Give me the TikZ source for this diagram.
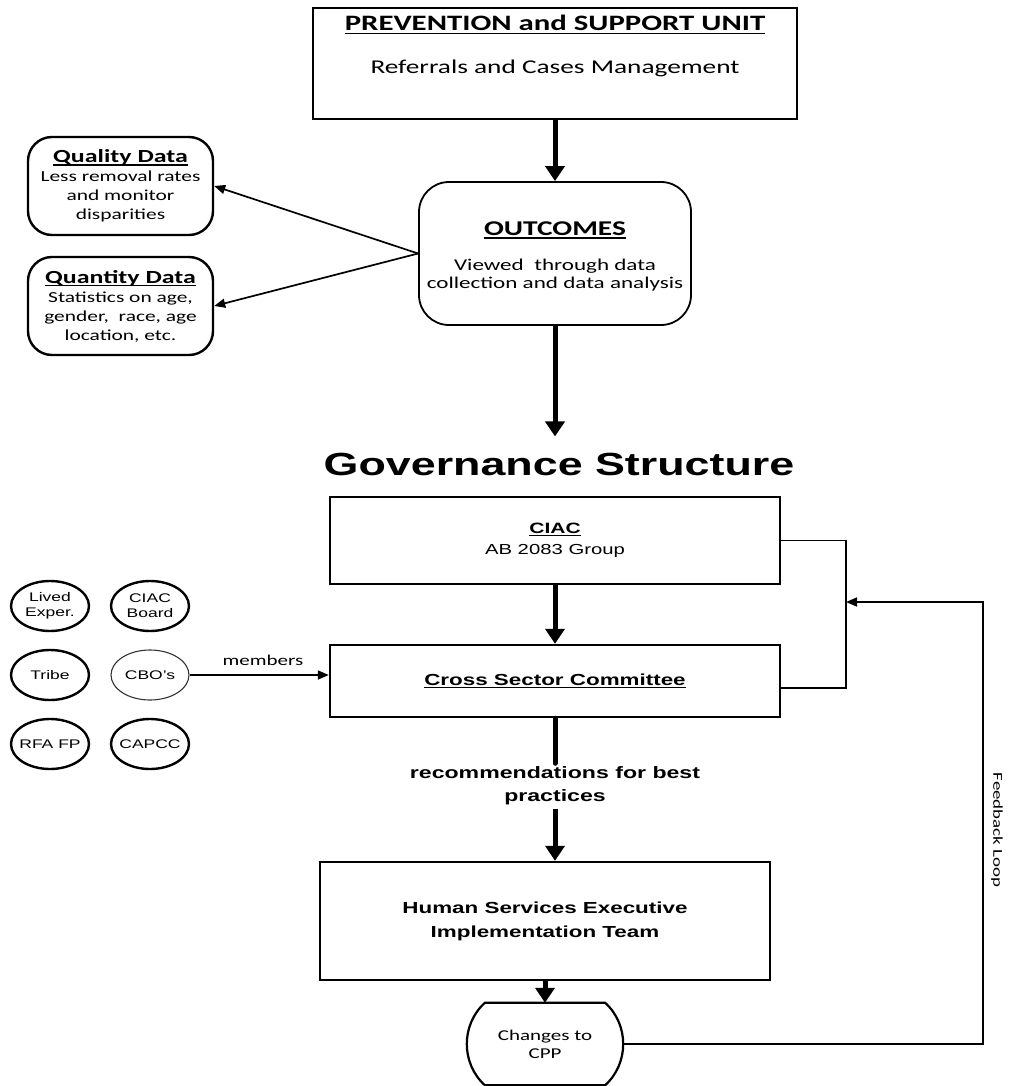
\documentclass[tikz,border=0pt]{standalone}
\usepackage{fontspec}
\usetikzlibrary{arrows.meta,shapes.geometric,calc}
\newfontfamily\calfont[FakeStretch=1.4]{Carlito}
\newfontfamily\arifont[FakeStretch=1.4]{Liberation Sans}
\newcommand\undl[1]{\setbox0=\hbox{#1}\leavevmode\rlap{\vrule height -0.09em depth 0.16em width \wd0}\box0}

\tikzset{
  sqbox/.style={draw, line width=2.4pt, inner sep=0pt, align=center},
  rndbox/.style={draw, line width=2.4pt, rounded corners=24pt, inner sep=0pt, align=center},
  member/.style={draw, ellipse, line width=2.4pt, minimum width=78pt, minimum height=50pt, inner xsep=-6pt, inner ysep=0pt, align=center, font=\arifont\fontsize{12.5}{15}\selectfont},
  bigarrow/.style={line width=5pt, -{Triangle[length=15pt,width=19pt]}},
  thinarrow/.style={line width=1.7pt, -{Triangle[length=11pt,width=9pt]}},
  loopline/.style={line width=1.7pt}
}

\begin{document}
\begin{tikzpicture}[x=1pt,y=1pt,yscale=-1,xscale=1]
\useasboundingbox (0,0) rectangle (1012,1086);

% Boxes of the upper part
\node[sqbox, minimum width=484pt, minimum height=111pt] (psu) at (555,63.5) {};
\node[font=\calfont\bfseries\fontsize{22}{26}\selectfont] (psutitle) at (555,25) {\undl{PREVENTION and SUPPORT UNIT}};
\node[font=\calfont\fontsize{19.5}{23}\selectfont] (psusub) at (555,68) {Referrals and Cases Management};

\node[rndbox, rounded corners=30pt, line width=1.8pt, minimum width=272pt, minimum height=143pt] (outc) at (555,253.5) {};
\node[font=\calfont\bfseries\fontsize{21}{25}\selectfont] (outctitle) at (555,230) {\undl{OUTCOMES}};
\node[font=\calfont\fontsize{16.5}{18.5}\selectfont, align=center] (outcsub) at (555,275) {Viewed~ through data\\collection and data analysis};

\node[rndbox, minimum width=185pt, minimum height=98pt, font=\calfont\fontsize{15.3}{19}\selectfont] (qual) at (120.5,186) {{\bfseries\fontsize{18.5}{19}\selectfont\undl{Quality Data}}\\Less removal rates\\and monitor\\disparities};
\node[rndbox, minimum width=185pt, minimum height=98pt, font=\calfont\fontsize{15.3}{19}\selectfont] (quan) at (120.5,306) {{\bfseries\fontsize{18.5}{19}\selectfont\undl{Quantity Data}}\\Statistics on age,\\gender,~ race, age\\location, etc.};

% Governance part
\node[font=\arifont\bfseries\fontsize{32}{36}\selectfont, inner sep=0pt] (gov) at (559,464) {Governance Structure};

\node[sqbox, minimum width=450pt, minimum height=87pt, font=\arifont\fontsize{14.5}{21}\selectfont] (ciac) at (555,540.5) {{\bfseries\fontsize{15}{21}\selectfont\undl{CIAC}}\\AB 2083 Group};
\node[sqbox, minimum width=450pt, minimum height=72pt, font=\arifont\bfseries\fontsize{16}{20}\selectfont] (csc) at (555,681) {\undl{Cross Sector Committee}};
\node[font=\arifont\bfseries\fontsize{16.5}{23}\selectfont, align=center] (rec) at (555,786) {recommendations for best\\practices};
\node[sqbox, minimum width=450pt, minimum height=118pt, font=\arifont\bfseries\fontsize{16}{24}\selectfont] (hset) at (545,921) {Human Services Executive\\Implementation Team};
\node[minimum width=156pt, minimum height=82pt, inner sep=0pt, align=center, font=\calfont\fontsize{15}{18}\selectfont] (chg) at (545,1044) {Changes to\\CPP};
\draw[line width=2.2pt] ($(chg.north west)+(18,0)$) -- ($(chg.north east)+(-18,0)$)
  .. controls ($(chg.north east)+(6,22)$) and ($(chg.south east)+(6,-22)$) .. ($(chg.south east)+(-18,0)$)
  -- ($(chg.south west)+(18,0)$)
  .. controls ($(chg.south west)+(-6,-22)$) and ($(chg.north west)+(-6,22)$) .. cycle;

% Members
\node[member] (lived) at (50,606) {Lived\\Exper.};
\node[member] (board) at (150,606) {CIAC\\Board};
\node[member] (tribe) at (50,675) {Tribe};
\node[member, line width=1.1pt, draw=black!80] (cbo) at (150,675) {CBO’s};
\node[member] (rfa) at (50,744) {RFA FP};
\node[member] (capcc) at (150,744) {CAPCC};
\node[font=\calfont\fontsize{15}{18}\selectfont] (memlabel) at (263,660) {members};

% Connectors
\draw[bigarrow] (psu.south) -- (outc.north);
\draw[bigarrow, shorten >=16pt] (outc.south) -- (outc.south |- gov.north);
\draw[thinarrow] (outc.west) -- (qual.east);
\draw[thinarrow] (outc.west) -- (quan.east);
\draw[bigarrow] (ciac.south) -- (csc.north);
\draw[line width=5pt, line cap=round] (csc.south) -- (rec.north);
\draw[bigarrow] (rec.south) -- (rec.south |- hset.north);
\draw[bigarrow] (hset.south) -- (chg.north);
\draw[thinarrow] (cbo.east) -- (cbo.east -| csc.west);

% Feedback loop
\coordinate (fbin) at (846,602);
\coordinate (fbtop) at (983,602);
\coordinate (fbret) at (846,688);
\draw[loopline] (ciac.east) -| (fbin) -- (fbret) -- (fbret -| csc.east);
\draw[thinarrow] (chg.east) -| (fbtop) -- (fbin);
\node[rotate=-90, font=\calfont\fontsize{13.5}{16}\selectfont] (fblabel) at (997,830) {Feedback Loop};

\end{tikzpicture}
\end{document}
